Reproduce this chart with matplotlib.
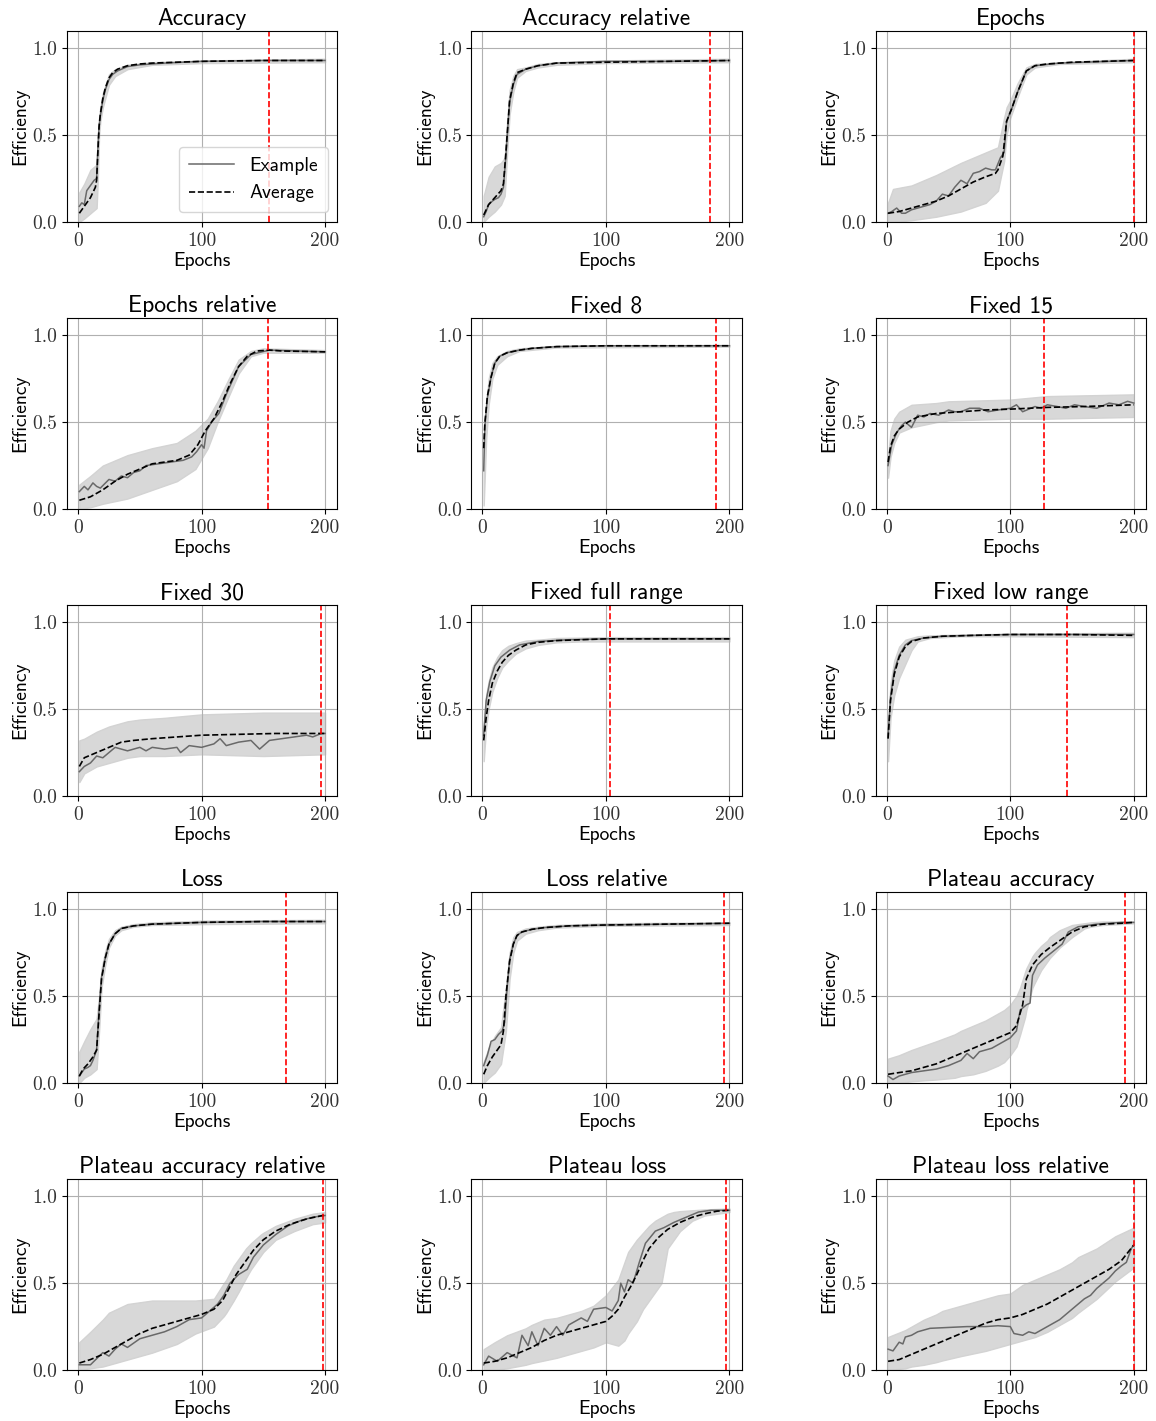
import matplotlib
matplotlib.use("Agg")
import matplotlib.pyplot as plt

# ---------------- data ----------------
titles = ["Accuracy", "Accuracy relative", "Epochs", "Epochs relative", "Fixed 8",
          "Fixed 15", "Fixed 30", "Fixed full range", "Fixed low range", "Loss",
          "Loss relative", "Plateau accuracy", "Plateau accuracy relative",
          "Plateau loss", "Plateau loss relative"]
stop_epochs = [155, 184, 200, 154, 189, 127, 197, 103, 146, 168, 196, 193, 198, 197, 200]

# Accuracy
acc_avg_x = [1, 3, 5, 8, 10, 12, 14, 15, 16, 17, 18, 20, 22, 25, 28, 32, 36, 40, 50, 60, 80, 100, 150, 200]
acc_avg = [0.05, 0.07, 0.09, 0.12, 0.14, 0.17, 0.20, 0.24, 0.40, 0.55, 0.62, 0.71, 0.77, 0.83, 0.86, 0.88, 0.89, 0.90, 0.91, 0.915, 0.92, 0.925, 0.93, 0.93]
acc_ex_x = [1, 3, 5, 7, 9, 11, 13, 15, 16, 17, 18, 20, 22, 25, 28, 32, 40, 50, 70, 100, 150, 200]
acc_ex = [0.09, 0.11, 0.10, 0.18, 0.20, 0.22, 0.24, 0.25, 0.42, 0.55, 0.61, 0.70, 0.76, 0.82, 0.85, 0.87, 0.895, 0.905, 0.915, 0.925, 0.93, 0.93]
acc_band_x = [1, 5, 10, 15, 16, 17, 18, 20, 25, 30, 40, 60, 100, 200]
acc_lo = [0.0, 0.02, 0.05, 0.08, 0.25, 0.50, 0.58, 0.66, 0.79, 0.84, 0.88, 0.905, 0.915, 0.92]
acc_hi = [0.17, 0.22, 0.30, 0.33, 0.50, 0.60, 0.66, 0.74, 0.85, 0.88, 0.905, 0.92, 0.93, 0.94]

# Accuracy relative
accr_avg_x = [1, 5, 10, 15, 17, 19, 20, 22, 25, 28, 35, 45, 60, 100, 150, 200]
accr_avg = [0.04, 0.10, 0.14, 0.18, 0.22, 0.40, 0.50, 0.70, 0.80, 0.86, 0.88, 0.90, 0.915, 0.92, 0.925, 0.93]
accr_ex_x = [1, 3, 5, 8, 10, 13, 15, 17, 19, 20, 22, 25, 28, 35, 45, 60, 100, 150, 200]
accr_ex = [0.03, 0.06, 0.10, 0.12, 0.13, 0.14, 0.16, 0.20, 0.38, 0.49, 0.69, 0.79, 0.85, 0.88, 0.90, 0.915, 0.925, 0.925, 0.93]
accr_band_x = [1, 5, 10, 15, 18, 20, 22, 25, 28, 35, 45, 60, 100, 200]
accr_lo = [0.0, 0.03, 0.06, 0.10, 0.15, 0.40, 0.62, 0.75, 0.83, 0.87, 0.89, 0.905, 0.915, 0.92]
accr_hi = [0.15, 0.26, 0.32, 0.34, 0.37, 0.58, 0.76, 0.84, 0.88, 0.89, 0.91, 0.92, 0.93, 0.94]

# Epochs
ep_avg_x = [1, 10, 20, 30, 40, 50, 60, 70, 80, 88, 90, 94, 97, 101, 106, 113, 120, 130, 150, 200]
ep_avg = [0.05, 0.06, 0.08, 0.10, 0.12, 0.15, 0.19, 0.23, 0.26, 0.28, 0.30, 0.38, 0.58, 0.65, 0.75, 0.87, 0.90, 0.91, 0.92, 0.93]
ep_ex_x = [1, 4, 8, 12, 15, 20, 25, 30, 35, 40, 45, 50, 55, 60, 65, 70, 75, 80, 85, 88, 92, 95, 97, 101, 106, 113, 120, 140, 200]
ep_ex = [0.05, 0.06, 0.08, 0.05, 0.05, 0.07, 0.08, 0.09, 0.10, 0.12, 0.16, 0.15, 0.20, 0.24, 0.22, 0.28, 0.29, 0.31, 0.30, 0.30, 0.37, 0.40, 0.58, 0.65, 0.75, 0.87, 0.90, 0.915, 0.93]
ep_band_x = [1, 5, 20, 40, 60, 80, 90, 95, 97, 100, 106, 113, 120, 140, 200]
ep_lo = [0.0, 0.0, 0.01, 0.03, 0.06, 0.11, 0.18, 0.35, 0.50, 0.60, 0.72, 0.85, 0.89, 0.91, 0.92]
ep_hi = [0.11, 0.19, 0.21, 0.27, 0.34, 0.40, 0.43, 0.60, 0.66, 0.70, 0.80, 0.89, 0.91, 0.92, 0.94]

# Epochs relative
epr_avg_x = [1, 10, 20, 30, 40, 50, 60, 70, 80, 90, 97, 103, 110, 117, 123, 130, 137, 145, 155, 165, 200]
epr_avg = [0.05, 0.07, 0.11, 0.16, 0.20, 0.23, 0.26, 0.27, 0.28, 0.31, 0.37, 0.45, 0.52, 0.62, 0.72, 0.82, 0.88, 0.91, 0.915, 0.91, 0.905]
epr_ex_x = [1, 5, 8, 12, 15, 18, 25, 30, 35, 40, 45, 50, 55, 65, 75, 85, 92, 96, 100, 102, 104, 108, 114, 120, 130, 140, 155, 200]
epr_ex = [0.10, 0.13, 0.11, 0.15, 0.13, 0.12, 0.17, 0.16, 0.19, 0.18, 0.21, 0.22, 0.25, 0.26, 0.27, 0.28, 0.30, 0.33, 0.37, 0.35, 0.45, 0.50, 0.55, 0.66, 0.82, 0.89, 0.915, 0.905]
epr_band_x = [1, 10, 20, 40, 60, 80, 95, 105, 113, 122, 130, 140, 150, 200]
epr_lo = [0.0, 0.01, 0.03, 0.06, 0.11, 0.16, 0.23, 0.35, 0.50, 0.65, 0.78, 0.88, 0.90, 0.90]
epr_hi = [0.14, 0.19, 0.25, 0.31, 0.35, 0.38, 0.45, 0.52, 0.62, 0.75, 0.86, 0.91, 0.925, 0.915]

# Fixed 8
f8_avg_x = [1, 2, 4, 7, 10, 14, 20, 30, 40, 60, 100, 200]
f8_avg = [0.35, 0.50, 0.65, 0.76, 0.84, 0.88, 0.90, 0.915, 0.925, 0.935, 0.94, 0.94]
f8_ex_x = [1, 2, 4, 7, 10, 14, 20, 30, 40, 60, 100, 200]
f8_ex = [0.22, 0.48, 0.64, 0.76, 0.84, 0.88, 0.90, 0.915, 0.925, 0.935, 0.94, 0.94]
f8_band_x = [1, 3, 5, 8, 12, 20, 30, 60, 200]
f8_lo = [0.02, 0.40, 0.60, 0.75, 0.83, 0.88, 0.91, 0.93, 0.935]
f8_hi = [0.40, 0.60, 0.75, 0.84, 0.88, 0.91, 0.925, 0.94, 0.945]

# Fixed 15
f15_avg_x = [1, 3, 6, 10, 17, 25, 40, 60, 80, 100, 130, 160, 200]
f15_avg = [0.27, 0.36, 0.42, 0.46, 0.50, 0.53, 0.55, 0.56, 0.57, 0.575, 0.585, 0.59, 0.60]
f15_ex_x = [1, 4, 8, 12, 15, 20, 25, 30, 35, 42, 50, 55, 60, 67, 75, 82, 90, 100, 105, 110, 120, 125, 130, 138, 145, 152, 160, 170, 180, 188, 195, 200]
f15_ex = [0.25, 0.37, 0.44, 0.48, 0.50, 0.47, 0.54, 0.53, 0.55, 0.54, 0.57, 0.56, 0.56, 0.58, 0.58, 0.56, 0.57, 0.58, 0.60, 0.56, 0.59, 0.58, 0.60, 0.59, 0.58, 0.60, 0.59, 0.58, 0.61, 0.60, 0.62, 0.61]
f15_band_x = [1, 3, 6, 10, 20, 40, 50, 100, 130, 200]
f15_lo = [0.18, 0.30, 0.38, 0.44, 0.47, 0.50, 0.51, 0.52, 0.52, 0.53]
f15_hi = [0.30, 0.45, 0.52, 0.56, 0.60, 0.61, 0.62, 0.63, 0.65, 0.66]

# Fixed 30
f30_avg_x = [1, 5, 15, 25, 35, 45, 60, 80, 100, 130, 160, 200]
f30_avg = [0.17, 0.22, 0.25, 0.28, 0.31, 0.32, 0.33, 0.34, 0.35, 0.355, 0.36, 0.36]
f30_ex_x = [1, 5, 10, 15, 20, 25, 30, 35, 40, 45, 50, 55, 60, 70, 80, 83, 90, 100, 110, 115, 120, 130, 140, 147, 155, 165, 175, 185, 190, 197, 200]
f30_ex = [0.14, 0.17, 0.19, 0.23, 0.22, 0.25, 0.28, 0.27, 0.26, 0.27, 0.28, 0.26, 0.28, 0.27, 0.28, 0.25, 0.29, 0.28, 0.30, 0.33, 0.29, 0.31, 0.32, 0.27, 0.32, 0.33, 0.34, 0.35, 0.34, 0.36, 0.36]
f30_band_x = [1, 5, 10, 15, 25, 30, 40, 50, 70, 100, 150, 200]
f30_lo = [0.08, 0.13, 0.15, 0.17, 0.19, 0.20, 0.22, 0.23, 0.23, 0.24, 0.23, 0.24]
f30_hi = [0.32, 0.33, 0.35, 0.37, 0.40, 0.41, 0.43, 0.44, 0.45, 0.47, 0.48, 0.48]

# Fixed full range
ffr_avg_x = [1, 3, 5, 8, 12, 16, 21, 27, 35, 45, 60, 80, 100, 200]
ffr_avg = [0.32, 0.45, 0.55, 0.65, 0.72, 0.77, 0.81, 0.84, 0.87, 0.885, 0.895, 0.90, 0.905, 0.905]
ffr_ex_x = [1, 3, 6, 10, 15, 22, 30, 45, 70, 100, 200]
ffr_ex = [0.35, 0.55, 0.66, 0.75, 0.80, 0.84, 0.87, 0.89, 0.90, 0.905, 0.905]
ffr_band_x = [1, 3, 5, 8, 12, 16, 21, 27, 35, 45, 60, 80, 100, 200]
ffr_lo = [0.20, 0.40, 0.50, 0.60, 0.68, 0.74, 0.78, 0.82, 0.85, 0.87, 0.885, 0.89, 0.89, 0.89]
ffr_hi = [0.40, 0.58, 0.66, 0.74, 0.80, 0.84, 0.865, 0.88, 0.895, 0.90, 0.91, 0.912, 0.915, 0.915]

# Fixed low range
flr_avg_x = [1, 3, 6, 10, 15, 20, 30, 45, 70, 100, 150, 200]
flr_avg = [0.33, 0.55, 0.70, 0.80, 0.86, 0.89, 0.91, 0.92, 0.925, 0.93, 0.93, 0.925]
flr_ex_x = [1, 3, 6, 10, 15, 20, 30, 45, 70, 100, 150, 200]
flr_ex = [0.34, 0.57, 0.72, 0.81, 0.87, 0.895, 0.91, 0.92, 0.925, 0.93, 0.93, 0.93]
flr_band_x = [1, 3, 6, 10, 15, 20, 25, 35, 60, 100, 200]
flr_lo = [0.20, 0.45, 0.58, 0.68, 0.76, 0.84, 0.89, 0.91, 0.92, 0.92, 0.915]
flr_hi = [0.40, 0.65, 0.78, 0.86, 0.90, 0.91, 0.92, 0.925, 0.93, 0.935, 0.94]

# Loss
loss_avg_x = [1, 4, 8, 12, 15, 17, 19, 22, 25, 30, 35, 45, 60, 100, 150, 200]
loss_avg = [0.04, 0.08, 0.11, 0.15, 0.19, 0.40, 0.60, 0.72, 0.80, 0.86, 0.89, 0.905, 0.915, 0.925, 0.93, 0.93]
loss_ex_x = [1, 3, 5, 8, 10, 12, 14, 15, 17, 19, 22, 25, 30, 35, 45, 60, 100, 150, 200]
loss_ex = [0.04, 0.06, 0.08, 0.09, 0.10, 0.13, 0.17, 0.19, 0.42, 0.61, 0.72, 0.80, 0.86, 0.89, 0.905, 0.915, 0.925, 0.93, 0.93]
loss_band_x = [1, 5, 10, 15, 17, 19, 22, 25, 30, 35, 45, 60, 100, 200]
loss_lo = [0.0, 0.03, 0.05, 0.08, 0.30, 0.55, 0.68, 0.78, 0.85, 0.88, 0.90, 0.91, 0.915, 0.92]
loss_hi = [0.18, 0.24, 0.31, 0.37, 0.50, 0.66, 0.76, 0.83, 0.88, 0.90, 0.915, 0.925, 0.935, 0.94]

# Loss relative
lossr_avg_x = [1, 4, 8, 12, 15, 17, 19, 22, 25, 28, 32, 40, 50, 70, 100, 150, 200]
lossr_avg = [0.05, 0.10, 0.15, 0.19, 0.22, 0.30, 0.50, 0.70, 0.80, 0.85, 0.87, 0.885, 0.895, 0.905, 0.91, 0.915, 0.92]
lossr_ex_x = [1, 4, 7, 10, 13, 16, 18, 20, 22, 25, 28, 32, 40, 50, 70, 100, 150, 200]
lossr_ex = [0.10, 0.16, 0.24, 0.25, 0.28, 0.30, 0.35, 0.55, 0.71, 0.80, 0.85, 0.87, 0.885, 0.895, 0.905, 0.91, 0.915, 0.92]
lossr_band_x = [1, 5, 10, 15, 19, 22, 25, 28, 35, 45, 60, 100, 200]
lossr_lo = [0.0, 0.03, 0.06, 0.11, 0.30, 0.60, 0.75, 0.82, 0.86, 0.88, 0.895, 0.905, 0.91]
lossr_hi = [0.12, 0.20, 0.27, 0.32, 0.55, 0.75, 0.84, 0.87, 0.89, 0.90, 0.91, 0.92, 0.925]

# Plateau accuracy
pa_avg_x = [1, 10, 20, 30, 40, 50, 60, 70, 80, 90, 100, 105, 110, 113, 118, 125, 132, 140, 150, 160, 175, 190, 200]
pa_avg = [0.05, 0.06, 0.07, 0.09, 0.11, 0.14, 0.17, 0.20, 0.23, 0.26, 0.29, 0.33, 0.45, 0.60, 0.68, 0.74, 0.78, 0.82, 0.87, 0.90, 0.915, 0.92, 0.925]
pa_ex_x = [1, 5, 10, 20, 30, 40, 50, 60, 65, 70, 75, 85, 95, 100, 105, 108, 113, 116, 118, 122, 128, 135, 142, 147, 155, 170, 190, 200]
pa_ex = [0.04, 0.02, 0.04, 0.06, 0.07, 0.08, 0.10, 0.13, 0.17, 0.14, 0.18, 0.20, 0.24, 0.26, 0.30, 0.42, 0.45, 0.46, 0.62, 0.68, 0.72, 0.76, 0.80, 0.87, 0.90, 0.915, 0.925, 0.925]
pa_band_x = [1, 10, 20, 40, 55, 60, 70, 80, 90, 95, 100, 105, 108, 112, 113, 118, 120, 125, 130, 132, 140, 150, 160, 165, 175, 200]
pa_lo = [0.0, 0.0, 0.01, 0.02, 0.03, 0.04, 0.05, 0.07, 0.10, 0.12, 0.16, 0.21, 0.28, 0.38, 0.42, 0.55, 0.58, 0.65, 0.70, 0.72, 0.78, 0.84, 0.89, 0.90, 0.91, 0.92]
pa_hi = [0.14, 0.16, 0.19, 0.24, 0.28, 0.30, 0.33, 0.36, 0.40, 0.42, 0.45, 0.50, 0.55, 0.64, 0.66, 0.73, 0.75, 0.79, 0.82, 0.84, 0.88, 0.91, 0.92, 0.925, 0.93, 0.93]

# Plateau accuracy relative
par_avg_x = [1, 10, 20, 30, 40, 50, 60, 75, 90, 100, 110, 117, 123, 128, 135, 142, 150, 160, 172, 185, 198, 200]
par_avg = [0.04, 0.06, 0.09, 0.13, 0.17, 0.21, 0.24, 0.27, 0.30, 0.32, 0.35, 0.40, 0.48, 0.55, 0.62, 0.69, 0.75, 0.80, 0.84, 0.87, 0.89, 0.89]
par_ex_x = [1, 10, 20, 25, 30, 35, 40, 50, 60, 70, 80, 90, 100, 105, 113, 118, 123, 130, 137, 142, 150, 160, 170, 180, 190, 200]
par_ex = [0.03, 0.03, 0.10, 0.08, 0.12, 0.15, 0.13, 0.18, 0.20, 0.22, 0.25, 0.29, 0.30, 0.33, 0.38, 0.43, 0.50, 0.55, 0.58, 0.65, 0.72, 0.78, 0.83, 0.86, 0.88, 0.89]
par_band_x = [1, 10, 20, 25, 40, 60, 80, 95, 110, 118, 120, 126, 130, 136, 140, 148, 150, 160, 175, 190, 200]
par_lo = [0.0, 0.01, 0.02, 0.03, 0.06, 0.10, 0.15, 0.21, 0.25, 0.31, 0.33, 0.40, 0.45, 0.53, 0.58, 0.66, 0.68, 0.75, 0.80, 0.84, 0.85]
par_hi = [0.16, 0.22, 0.29, 0.33, 0.38, 0.40, 0.40, 0.40, 0.41, 0.50, 0.52, 0.60, 0.64, 0.70, 0.73, 0.78, 0.79, 0.83, 0.87, 0.90, 0.91]

# Plateau loss
pl_avg_x = [1, 10, 20, 30, 40, 50, 60, 70, 80, 90, 100, 105, 110, 115, 120, 125, 130, 135, 142, 150, 160, 170, 180, 190, 200]
pl_avg = [0.04, 0.05, 0.07, 0.10, 0.13, 0.17, 0.20, 0.22, 0.24, 0.26, 0.28, 0.31, 0.35, 0.42, 0.48, 0.55, 0.63, 0.70, 0.76, 0.81, 0.85, 0.88, 0.90, 0.915, 0.92]
pl_ex_x = [1, 5, 12, 20, 28, 32, 37, 40, 45, 50, 55, 60, 65, 70, 75, 80, 85, 90, 100, 105, 110, 112, 115, 118, 122, 127, 132, 140, 147, 155, 165, 175, 185, 200]
pl_ex = [0.03, 0.08, 0.05, 0.10, 0.07, 0.20, 0.14, 0.22, 0.14, 0.24, 0.20, 0.25, 0.20, 0.26, 0.28, 0.30, 0.28, 0.35, 0.36, 0.34, 0.40, 0.50, 0.45, 0.52, 0.50, 0.62, 0.73, 0.80, 0.82, 0.85, 0.88, 0.91, 0.92, 0.92]
pl_band_x = [1, 10, 20, 35, 40, 50, 60, 70, 80, 90, 100, 110, 115, 118, 125, 130, 135, 140, 145, 150, 155, 160, 170, 180, 200]
pl_lo = [0.0, 0.0, 0.01, 0.03, 0.04, 0.055, 0.07, 0.09, 0.11, 0.13, 0.16, 0.14, 0.17, 0.21, 0.28, 0.35, 0.40, 0.45, 0.50, 0.70, 0.75, 0.80, 0.86, 0.89, 0.91]
pl_hi = [0.12, 0.16, 0.20, 0.24, 0.26, 0.29, 0.30, 0.32, 0.34, 0.37, 0.43, 0.52, 0.62, 0.68, 0.75, 0.79, 0.83, 0.86, 0.88, 0.90, 0.91, 0.915, 0.92, 0.925, 0.93]

# Plateau loss relative
plr_avg_x = [1, 10, 20, 30, 40, 50, 60, 70, 80, 90, 100, 110, 120, 130, 140, 150, 160, 170, 180, 190, 200]
plr_avg = [0.05, 0.06, 0.09, 0.12, 0.15, 0.18, 0.21, 0.24, 0.27, 0.29, 0.30, 0.32, 0.35, 0.38, 0.42, 0.46, 0.50, 0.54, 0.58, 0.63, 0.72]
plr_ex_x = [1, 5, 10, 13, 15, 20, 25, 35, 50, 65, 80, 90, 100, 103, 110, 115, 120, 125, 130, 135, 140, 145, 150, 155, 160, 165, 170, 175, 180, 185, 190, 194, 198, 200]
plr_ex = [0.12, 0.11, 0.16, 0.15, 0.19, 0.20, 0.22, 0.24, 0.245, 0.25, 0.25, 0.255, 0.25, 0.21, 0.20, 0.22, 0.21, 0.23, 0.25, 0.27, 0.29, 0.32, 0.35, 0.38, 0.41, 0.43, 0.47, 0.50, 0.53, 0.57, 0.60, 0.62, 0.70, 0.72]
plr_band_x = [1, 15, 20, 30, 40, 45, 60, 70, 80, 90, 100, 110, 120, 130, 140, 150, 155, 170, 185, 200]
plr_lo = [0.0, 0.01, 0.02, 0.03, 0.045, 0.055, 0.08, 0.095, 0.11, 0.13, 0.15, 0.17, 0.19, 0.22, 0.26, 0.30, 0.33, 0.41, 0.51, 0.59]
plr_hi = [0.19, 0.23, 0.25, 0.29, 0.32, 0.34, 0.37, 0.39, 0.41, 0.43, 0.44, 0.49, 0.52, 0.55, 0.58, 0.62, 0.65, 0.70, 0.77, 0.82]

panels = [
    (acc_band_x, acc_lo, acc_hi, acc_ex_x, acc_ex, acc_avg_x, acc_avg),
    (accr_band_x, accr_lo, accr_hi, accr_ex_x, accr_ex, accr_avg_x, accr_avg),
    (ep_band_x, ep_lo, ep_hi, ep_ex_x, ep_ex, ep_avg_x, ep_avg),
    (epr_band_x, epr_lo, epr_hi, epr_ex_x, epr_ex, epr_avg_x, epr_avg),
    (f8_band_x, f8_lo, f8_hi, f8_ex_x, f8_ex, f8_avg_x, f8_avg),
    (f15_band_x, f15_lo, f15_hi, f15_ex_x, f15_ex, f15_avg_x, f15_avg),
    (f30_band_x, f30_lo, f30_hi, f30_ex_x, f30_ex, f30_avg_x, f30_avg),
    (ffr_band_x, ffr_lo, ffr_hi, ffr_ex_x, ffr_ex, ffr_avg_x, ffr_avg),
    (flr_band_x, flr_lo, flr_hi, flr_ex_x, flr_ex, flr_avg_x, flr_avg),
    (loss_band_x, loss_lo, loss_hi, loss_ex_x, loss_ex, loss_avg_x, loss_avg),
    (lossr_band_x, lossr_lo, lossr_hi, lossr_ex_x, lossr_ex, lossr_avg_x, lossr_avg),
    (pa_band_x, pa_lo, pa_hi, pa_ex_x, pa_ex, pa_avg_x, pa_avg),
    (par_band_x, par_lo, par_hi, par_ex_x, par_ex, par_avg_x, par_avg),
    (pl_band_x, pl_lo, pl_hi, pl_ex_x, pl_ex, pl_avg_x, pl_avg),
    (plr_band_x, plr_lo, plr_hi, plr_ex_x, plr_ex, plr_avg_x, plr_avg),
]

# ---------------- styling ----------------
SANS = ["cmss10", "DejaVu Sans"]
SERIF = ["cmr10", "DejaVu Serif"]
plt.rcParams["axes.unicode_minus"] = False

fig, axes = plt.subplots(5, 3, figsize=(11.56, 14.21), dpi=100)
fig.subplots_adjust(left=0.058, right=0.9914, top=0.9782, bottom=0.0359,
                    wspace=0.496, hspace=0.503)

for i, ax in enumerate(axes.flat):
    bx, lo, hi, ex_x, ex, av_x, av = panels[i]
    ax.fill_between(bx, lo, hi, color="#d8d8d8", linewidth=1.0,
                    edgecolor="#d3d3d3")
    ax.plot(ex_x, ex, color="dimgrey", linewidth=1.1, label="Example")
    ax.plot(av_x, av, color="black", linestyle="--", linewidth=1.2, label="Average")
    ax.axvline(stop_epochs[i], color="red", linestyle="--", linewidth=1.2)
    ax.set_xlim(-8.95, 209.95)
    ax.set_ylim(0, 1.1)
    ax.set_xticks([0, 100, 200])
    ax.set_yticks([0.0, 0.5, 1.0])
    ax.set_yticklabels(["0.0", "0.5", "1.0"])
    ax.grid(True, color="#b0b0b0", linewidth=0.8)
    for lab in ax.get_xticklabels() + ax.get_yticklabels():
        lab.set_family(SERIF)
        lab.set_fontsize(14)
        lab.set_color("#333333")
    ax.set_title(titles[i], family=SANS, fontsize=17, pad=4)
    ax.set_xlabel("Epochs", family=SANS, fontsize=14, labelpad=2)
    ax.set_ylabel("Efficiency", family=SANS, fontsize=14, labelpad=2)
    if i == 0:
        ax.legend(loc="lower right", prop={"family": SANS, "size": 14},
                  handlelength=2.3, borderpad=0.5, labelspacing=0.5)

fig.savefig("out.png", dpi=100)
